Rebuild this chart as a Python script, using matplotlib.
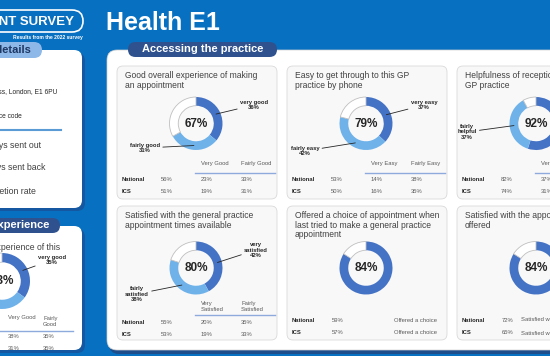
import matplotlib.pyplot as plt
from matplotlib.patches import FancyBboxPatch
import numpy as np

plt.rcParams['font.family'] = ['Liberation Sans', 'DejaVu Sans']

W, H = 550, 356

# ---- data ----
practice_name = "Health E1"
section_title = "Accessing the practice"

card_titles = [
    "Good overall experience of making\nan appointment",
    "Easy to get through to this GP\npractice by phone",
    "Helpfulness of receptionists at this\nGP practice",
    "Satisfied with the general practice\nappointment times available",
    "Offered a choice of appointment when\nlast tried to make a general practice\nappointment",
    "Satisfied with the appointment\noffered",
]
very_pct = [36, 37, 55, 42, 84, 84]
fairly_pct = [31, 42, 37, 38, 0, 0]
very_names = ["very good", "very easy", "very helpful", "very\nsatisfied"]
fairly_names = ["fairly good", "fairly easy", "fairly\nhelpful", "fairly\nsatisfied"]

head_very = ["Very Good", "Very Easy", "Very Helpful", "Very\nSatisfied"]
head_fairly = ["Fairly Good", "Fairly Easy", "Fairly Helpful", "Fairly\nSatisfied"]
nat_total = [56, 53, 82, 55, 59, 72]
ics_total = [51, 50, 74, 53, 57, 65]
nat_very = [23, 14, 37, 20]
nat_fairly = [33, 38, 45, 35]
ics_very = [19, 16, 31, 19]
ics_fairly = [31, 35, 43, 33]
single_labels = ["Offered a choice", "Satisfied with appointment"]

# left-hand overall experience panel
overall_very = 35
overall_fairly = 38
overall_head = ["Very Good", "Fairly\nGood"]
overall_rows = [[38, 35], [31, 35]]

detail_items = ["Surveys sent out", "Surveys sent back", "Completion rate"]

# ---- colours ----
BLUE_BG = '#0870C0'
NAVY = '#2F528F'
DARK = '#4472C4'
LIGHT = '#6FB2EA'
TXT = '#404040'

fig = plt.figure(figsize=(5.5, 3.56), dpi=100)
fig.patch.set_facecolor(BLUE_BG)
bg = fig.add_axes([0, 0, 1, 1])
bg.set_xlim(0, W)
bg.set_ylim(H, 0)
bg.axis('off')


def box(x, y, w, h, r, fc, ec='none', lw=0, z=1):
    p = FancyBboxPatch((x, y), w, h, boxstyle=f"round,pad=0,rounding_size={r}",
                       fc=fc, ec=ec, lw=lw, zorder=z)
    bg.add_patch(p)


def px_axes(x, y, w, h):
    return fig.add_axes([x / W, 1 - (y + h) / H, w / W, h / H])


def donut(cx, cy, r, values):
    ax = px_axes(cx - r * 1.15, cy - r * 1.15, 2.3 * r, 2.3 * r)
    rest = 100 - sum(values)
    cols = [DARK, LIGHT][:len(values)] + ['white']
    wedges, _ = ax.pie(values + [rest], colors=cols, startangle=90, counterclock=False,
                       wedgeprops=dict(width=0.33, linewidth=0))
    wedges[-1].set_edgecolor('#BFBFBF')
    wedges[-1].set_linewidth(0.6)
    ax.set_xlim(-1.15, 1.15)
    ax.set_ylim(-1.15, 1.15)
    ax.axis('off')
    ax.text(0, 0, f"{sum(values)}%", ha='center', va='center', fontsize=8.5,
            fontweight='bold', color='#262626')
    return ax, wedges


def label(ax, wedge, text, tx, ty):
    th = np.deg2rad((wedge.theta1 + wedge.theta2) / 2)
    ax.annotate(text, xy=(0.835 * np.cos(th), 0.835 * np.sin(th)), xycoords='data',
                xytext=(tx, ty), textcoords=bg.transData, ha='center', va='center',
                fontsize=4.2, fontweight='bold', color='#262626', linespacing=1.2,
                arrowprops=dict(arrowstyle='-', lw=0.6, color='#262626', shrinkA=0, shrinkB=0))


# ---- header ----
box(-40, 10, 123, 22, 11, 'none', 'white', 1.2, z=2)
bg.text(74, 22, "GP PATIENT SURVEY", ha='right', va='center', fontsize=9.5,
        fontweight='bold', color='white')
bg.text(83, 38, "Results from the 2022 survey", ha='right', va='center', fontsize=3.6,
        fontweight='bold', color='white')
bg.text(106, 23, practice_name, ha='left', va='center', fontsize=18,
        fontweight='bold', color='white')

# ---- left panels ----
box(-17, 53, 102, 158, 8, '#1557A0')
box(-20, 50, 102, 158, 8, 'white', z=2)
box(-20, 42, 62, 16, 8, '#8DB8E8', z=3)
bg.text(31, 50, "Practice details", ha='right', va='center', fontsize=8,
        fontweight='bold', color='#1F3864', zorder=4)
bg.text(57, 92, "Practice address, London, E1 6PU", ha='right', va='center',
        fontsize=4.8, color='#262626', zorder=4)
bg.text(22, 116, "Practice code", ha='right', va='center', fontsize=4.8,
        color='#262626', zorder=4)
bg.plot([-5, 61], [130, 130], color='#5B9BD5', lw=1.5, zorder=4)
for item, yy, xr in zip(detail_items, [145, 168, 192], [41, 46, 36]):
    bg.text(xr, yy, item, ha='right', va='center', fontsize=6.3, color=TXT, zorder=4)

box(-17, 229, 102, 124, 8, '#1557A0')
box(-20, 226, 102, 124, 8, 'white', z=2)
box(-20, 218, 80, 15, 7.5, NAVY, z=3)
bg.text(49, 225.5, "Patient experience", ha='right', va='center', fontsize=8,
        fontweight='bold', color='white', zorder=4)
bg.text(60, 247, "Good overall experience of this", ha='right', va='center',
        fontsize=6.2, color=TXT, zorder=4)
ax0, w0 = donut(2, 281, 28, [overall_very, overall_fairly])
label(ax0, w0[0], f"very good\n{overall_very}%", 52, 260)
bg.text(8, 318, overall_head[0], ha='left', va='center', fontsize=4.2, color='#595959', zorder=4)
bg.text(43, 321.5, overall_head[1], ha='left', va='center', fontsize=4.2, color='#595959',
        zorder=4, linespacing=1.3)
bg.plot([-5, 73], [331, 331], color='#8EA9DB', lw=1, zorder=4)
for row, yy in zip(overall_rows, [337, 349]):
    bg.text(8, yy, f"{row[0]}%", ha='left', va='center', fontsize=4.2, color='#595959', zorder=4)
    bg.text(43, yy, f"{row[1]}%", ha='left', va='center', fontsize=4.2, color='#595959', zorder=4)

# ---- main panel ----
box(109, 54, 470, 300, 10, '#1E4D8C')
box(107, 50, 470, 300, 10, 'white', ec='#D0D0D0', lw=0.5, z=2)
box(128, 42, 149, 15, 7.5, NAVY, z=3)
bg.text(202.5, 49.5, section_title, ha='center', va='center', fontsize=8,
        fontweight='bold', color='white', zorder=4)

card_xy = [(117, 66), (287, 66), (457, 66), (117, 206), (287, 206), (457, 206)]
fairly_pos = [(28, 82), (18, 85), (10, 66), (20, 88)]

for i, (cx, cy) in enumerate(card_xy):
    row2 = cy > 100
    box(cx, cy, 160, 134 if row2 else 133, 6, '#F8F8F8', '#D9D9D9', 0.6, z=3)
    bg.text(cx + 8, cy + 5, card_titles[i], ha='left', va='top', fontsize=6.15,
            color=TXT, linespacing=1.08, zorder=4)
    dy = 62 if row2 else 57.5
    vals = [very_pct[i], fairly_pct[i]] if fairly_pct[i] else [very_pct[i]]
    ax, wedges = donut(cx + 79, cy + dy, 26.5, vals)
    tkw = dict(fontsize=4.2, color='#595959', va='center', ha='left', zorder=4)
    if i < 4:
        vx, vy = (139, 44) if row2 else (137, 39)
        label(ax, wedges[0], f"{very_names[i]}\n{very_pct[i]}%", cx + vx, cy + vy)
        fx, fy = fairly_pos[i]
        label(ax, wedges[1], f"{fairly_names[i]}\n{fairly_pct[i]}%", cx + fx, cy + fy)
        hy, ly, r1, r2 = (100.5, 109, 116, 128) if row2 else (98, 107, 113.5, 125.5)
        bg.text(cx + 84, cy + hy, head_very[i], linespacing=1.3, **tkw)
        bg.text(cx + 124, cy + hy, head_fairly[i], linespacing=1.3, **tkw)
        bg.plot([cx + 78, cx + 158], [cy + ly, cy + ly], color='#8EA9DB', lw=1, zorder=4)
        for name, tot, v, f, yy in [("National", nat_total[i], nat_very[i], nat_fairly[i], r1),
                                    ("ICS", ics_total[i], ics_very[i], ics_fairly[i], r2)]:
            bg.text(cx + 5, cy + yy, name, fontweight='bold', **{**tkw, 'color': '#262626'})
            bg.text(cx + 44, cy + yy, f"{tot}%", **tkw)
            bg.text(cx + 84, cy + yy, f"{v}%", **tkw)
            bg.text(cx + 124, cy + yy, f"{f}%", **tkw)
    else:
        lab = single_labels[i - 4]
        for name, tot, yy in [("National", nat_total[i], 114), ("ICS", ics_total[i], 127)]:
            bg.text(cx + 5, cy + yy, name, fontweight='bold', **{**tkw, 'color': '#262626'})
            bg.text(cx + 45, cy + yy, f"{tot}%", **tkw)
            if i == 4:
                bg.text(cx + 150, cy + yy, lab, **{**tkw, 'ha': 'right'})
            else:
                bg.text(cx + 64, cy + yy, lab, **tkw)

fig.savefig('out.png', dpi=100, facecolor=BLUE_BG)
